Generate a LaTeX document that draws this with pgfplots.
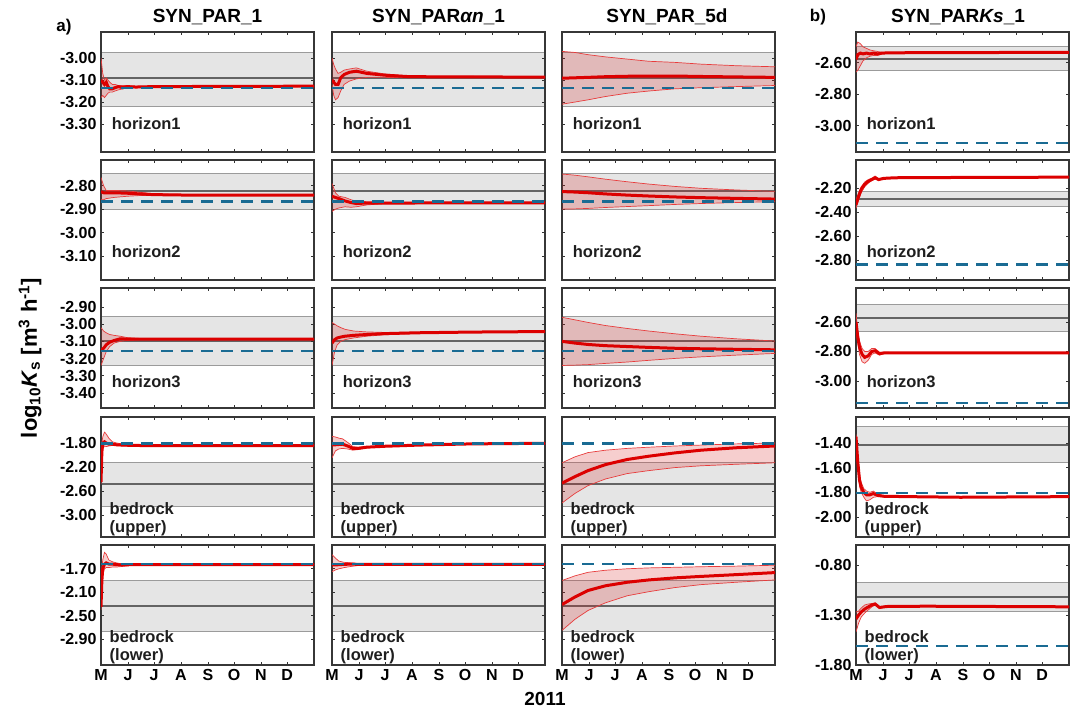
\documentclass[border=0pt]{standalone}
\usepackage{fontspec}
\setmainfont{Liberation Sans}
\usepackage{pgfplots}
\usepackage{pgfplotstable}
\pgfplotsset{compat=1.18}
\usepgfplotslibrary{fillbetween}

\definecolor{framegray}{RGB}{55,55,55}
\definecolor{bandfill}{RGB}{229,229,229}
\definecolor{bandedge}{RGB}{155,155,155}
\definecolor{midgray}{RGB}{100,100,100}
\definecolor{trueblue}{RGB}{26,107,147}
\definecolor{mainred}{RGB}{220,0,0}
\definecolor{envred}{RGB}{232,60,60}
\definecolor{pinkfill}{RGB}{215,30,30}
\definecolor{labcol}{RGB}{30,30,30}

\newcommand\labfont{\bfseries\fontsize{16.5bp}{18bp}\selectfont}
\newcommand\tickfont{\bfseries\fontsize{16bp}{18bp}\selectfont}

\pgfplotsset{
 pan/.style={
  set layers,
  width=213bp, height=120bp, scale only axis, anchor=north west,
  xmin=0, xmax=245, xtick={0,31,61,92,123,153,184,214}, xticklabels={},
  tick align=inside, major tick length=3bp, xtick pos=both, ytick pos=both,
  axis line style={draw=framegray, line width=1.8bp},
  tick style={draw=black!80, line width=0.7bp},
  tick label style={font=\tickfont},
  yticklabel style={xshift=-1bp},
 },
 bot/.style={xticklabels={M,J,J,A,S,O,N,D}, xticklabel style={yshift=-1bp}},
 noy/.style={yticklabels={}},
}

\newcommand{\band}[3]{%
 \addplot[on layer=axis background, draw=bandedge, fill=bandfill, line width=0.9bp] coordinates {(0,#1) (245,#1) (245,#2) (0,#2) (0,#1)};
 \addplot[on layer=axis background, draw=midgray, line width=2bp] coordinates {(0,#3) (245,#3)};}
\newcommand{\ens}[2]{%
 \addplot[name path=U#2, draw=envred, line width=0.7bp] table[x=x,y=u]{#1};
 \addplot[name path=L#2, draw=envred, line width=0.7bp] table[x=x,y=l]{#1};
 \addplot[fill=pinkfill, fill opacity=0.22, draw=none] fill between[of=U#2 and L#2];
 \addplot[draw=mainred, line width=3bp] table[x=x,y=m]{#1};}
\newcommand{\truth}[1]{\addplot[draw=trueblue, line width=2.6bp, dash pattern=on 12bp off 8bp] coordinates {(0,#1) (245,#1)};}
\newcommand{\hlab}[2]{\node[anchor=base west, font=\labfont, text=labcol, inner sep=0pt] at (rel axis cs:0.05,#1) {#2};}
\newcommand{\blab}[1]{\node[anchor=base west, font=\labfont, text=labcol, inner sep=0pt] at (rel axis cs:0.04,0.185) {bedrock};
 \node[anchor=base west, font=\labfont, text=labcol, inner sep=0pt] at (rel axis cs:0.04,0.035) {(#1)};}

% ---------------- data: x = day since 1 May 2011, m = mean, u/l = envelope
\pgfplotstableread{
x m u l
0 -3.10 -3.00 -3.18
2 -3.11 -3.07 -3.17
4 -3.12 -3.10 -3.18
6 -3.11 -3.09 -3.17
8 -3.13 -3.10 -3.16
10 -3.14 -3.11 -3.155
13 -3.14 -3.12 -3.155
16 -3.135 -3.12 -3.15
20 -3.13 -3.125 -3.145
25 -3.135 -3.125 -3.14
30 -3.13 -3.125 -3.137
40 -3.132 -3.128 -3.135
60 -3.13 -3.128 -3.132
245 -3.128 -3.126 -3.130
}\dAa
\pgfplotstableread{
x m u l
0 -3.10 -3.00 -3.12
2 -3.11 -3.03 -3.17
4 -3.12 -3.05 -3.19
7 -3.12 -3.07 -3.18
10 -3.09 -3.065 -3.15
14 -3.075 -3.055 -3.12
20 -3.065 -3.05 -3.105
28 -3.06 -3.045 -3.095
40 -3.07 -3.06 -3.088
60 -3.078 -3.072 -3.088
90 -3.085 -3.082 -3.09
245 -3.087 -3.085 -3.089
}\dAb
\pgfplotstableread{
x m u l
0 -3.092 -2.97 -3.21
15 -3.09 -2.975 -3.20
30 -3.088 -2.985 -3.19
50 -3.085 -2.995 -3.175
75 -3.083 -3.005 -3.16
100 -3.082 -3.015 -3.15
130 -3.082 -3.02 -3.14
160 -3.084 -3.028 -3.135
200 -3.086 -3.035 -3.13
245 -3.088 -3.04 -3.125
}\dAc
\pgfplotstableread{
x m u l
0 -2.58 -2.50 -2.66
2 -2.55 -2.47 -2.65
5 -2.54 -2.48 -2.62
8 -2.545 -2.50 -2.59
12 -2.54 -2.51 -2.57
16 -2.545 -2.52 -2.56
20 -2.54 -2.525 -2.555
25 -2.545 -2.53 -2.555
30 -2.54 -2.535 -2.545
40 -2.538 -2.535 -2.541
245 -2.535 -2.533 -2.537
}\dAd
\pgfplotstableread{
x m u l
0 -2.825 -2.765 -2.86
3 -2.83 -2.80 -2.86
6 -2.83 -2.82 -2.855
15 -2.83 -2.82 -2.85
30 -2.832 -2.822 -2.845
45 -2.835 -2.828 -2.842
60 -2.838 -2.834 -2.842
100 -2.84 -2.838 -2.842
245 -2.84 -2.838 -2.842
}\dBa
\pgfplotstableread{
x m u l
0 -2.845 -2.79 -2.91
4 -2.85 -2.83 -2.90
8 -2.855 -2.845 -2.895
15 -2.865 -2.85 -2.89
22 -2.872 -2.86 -2.892
28 -2.876 -2.866 -2.89
40 -2.874 -2.868 -2.882
60 -2.874 -2.871 -2.877
245 -2.873 -2.871 -2.875
}\dBb
\pgfplotstableread{
x m u l
0 -2.825 -2.75 -2.90
15 -2.827 -2.755 -2.899
30 -2.83 -2.762 -2.897
50 -2.835 -2.772 -2.893
75 -2.84 -2.783 -2.889
100 -2.844 -2.793 -2.885
130 -2.848 -2.803 -2.88
160 -2.851 -2.811 -2.876
200 -2.854 -2.818 -2.872
245 -2.857 -2.824 -2.868
}\dBc
\pgfplotstableread{
x m u l
0 -2.34 -2.30 -2.37
3 -2.27 -2.24 -2.30
6 -2.21 -2.19 -2.24
10 -2.17 -2.15 -2.19
14 -2.145 -2.13 -2.16
18 -2.13 -2.12 -2.14
22 -2.115 -2.10 -2.125
26 -2.13 -2.125 -2.135
32 -2.12 -2.118 -2.125
45 -2.115 -2.113 -2.118
100 -2.113 -2.111 -2.115
245 -2.11 -2.108 -2.112
}\dBd
\pgfplotstableread{
x m u l
0 -3.15 -3.02 -3.24
3 -3.14 -3.04 -3.20
6 -3.12 -3.05 -3.16
10 -3.105 -3.06 -3.13
15 -3.095 -3.065 -3.11
22 -3.085 -3.07 -3.10
30 -3.087 -3.078 -3.095
45 -3.087 -3.083 -3.091
245 -3.087 -3.085 -3.089
}\dCa
\pgfplotstableread{
x m u l
0 -3.11 -2.99 -3.24
3 -3.09 -3.00 -3.16
6 -3.08 -3.01 -3.12
10 -3.075 -3.02 -3.10
15 -3.07 -3.03 -3.09
25 -3.065 -3.04 -3.08
40 -3.06 -3.045 -3.07
60 -3.055 -3.048 -3.062
100 -3.05 -3.047 -3.053
160 -3.046 -3.044 -3.048
245 -3.043 -3.041 -3.045
}\dCb
\pgfplotstableread{
x m u l
0 -3.10 -2.96 -3.24
15 -3.11 -2.975 -3.238
30 -3.118 -2.99 -3.235
50 -3.125 -3.008 -3.228
75 -3.13 -3.025 -3.22
100 -3.135 -3.04 -3.21
130 -3.14 -3.056 -3.199
160 -3.143 -3.07 -3.19
200 -3.146 -3.085 -3.18
245 -3.149 -3.098 -3.17
}\dCc
\pgfplotstableread{
x m u l
0 -2.60 -2.54 -2.66
2 -2.70 -2.66 -2.74
4 -2.77 -2.73 -2.82
7 -2.82 -2.78 -2.87
10 -2.84 -2.80 -2.88
14 -2.83 -2.80 -2.86
18 -2.80 -2.78 -2.82
22 -2.795 -2.78 -2.81
27 -2.815 -2.805 -2.825
32 -2.81 -2.805 -2.815
50 -2.81 -2.808 -2.812
245 -2.81 -2.808 -2.812
}\dCd
\pgfplotstableread{
x m u l
0 -2.45 -2.20 -2.48
1 -1.95 -1.80 -2.20
2 -1.80 -1.70 -1.90
4 -1.78 -1.62 -1.85
6 -1.80 -1.65 -1.86
9 -1.82 -1.72 -1.85
13 -1.82 -1.78 -1.84
18 -1.83 -1.80 -1.845
25 -1.835 -1.82 -1.85
35 -1.84 -1.835 -1.85
60 -1.845 -1.84 -1.85
245 -1.845 -1.843 -1.847
}\dDa
\pgfplotstableread{
x m u l
0 -1.83 -1.69 -2.05
4 -1.83 -1.70 -1.93
8 -1.825 -1.72 -1.90
12 -1.82 -1.73 -1.89
18 -1.85 -1.79 -1.90
24 -1.89 -1.86 -1.92
30 -1.89 -1.87 -1.91
40 -1.87 -1.86 -1.88
60 -1.855 -1.85 -1.86
100 -1.835 -1.832 -1.838
160 -1.815 -1.813 -1.817
245 -1.805 -1.803 -1.807
}\dDb
\pgfplotstableread{
x m u l
0 -2.47 -2.13 -2.80
15 -2.36 -2.03 -2.64
30 -2.26 -1.96 -2.51
50 -2.16 -1.92 -2.40
75 -2.075 -1.89 -2.31
100 -2.02 -1.87 -2.26
130 -1.965 -1.85 -2.21
160 -1.92 -1.835 -2.18
200 -1.88 -1.815 -2.155
245 -1.85 -1.80 -2.13
}\dDc
\pgfplotstableread{
x m u l
0 -1.35 -1.33 -1.40
2 -1.55 -1.50 -1.60
4 -1.70 -1.65 -1.75
6 -1.76 -1.72 -1.80
9 -1.80 -1.77 -1.84
12 -1.82 -1.79 -1.87
16 -1.82 -1.80 -1.86
20 -1.81 -1.79 -1.84
25 -1.825 -1.815 -1.835
32 -1.832 -1.828 -1.836
60 -1.835 -1.833 -1.837
120 -1.84 -1.838 -1.842
245 -1.835 -1.833 -1.837
}\dDd
\pgfplotstableread{
x m u l
0 -2.35 -2.10 -2.40
1 -1.90 -1.70 -2.10
2 -1.70 -1.55 -1.80
4 -1.62 -1.42 -1.70
6 -1.60 -1.45 -1.68
9 -1.62 -1.55 -1.68
13 -1.62 -1.58 -1.67
18 -1.63 -1.60 -1.67
25 -1.635 -1.62 -1.66
35 -1.63 -1.625 -1.64
60 -1.63 -1.628 -1.633
245 -1.63 -1.628 -1.632
}\dEa
\pgfplotstableread{
x m u l
0 -1.635 -1.46 -1.75
4 -1.635 -1.52 -1.72
8 -1.63 -1.57 -1.70
14 -1.625 -1.59 -1.68
22 -1.62 -1.60 -1.66
30 -1.625 -1.61 -1.645
45 -1.625 -1.62 -1.632
245 -1.625 -1.623 -1.627
}\dEb
\pgfplotstableread{
x m u l
0 -2.31 -1.90 -2.75
15 -2.18 -1.82 -2.56
30 -2.07 -1.76 -2.41
50 -1.99 -1.725 -2.28
75 -1.93 -1.70 -2.16
100 -1.89 -1.685 -2.09
130 -1.855 -1.675 -2.02
160 -1.83 -1.665 -1.97
200 -1.80 -1.655 -1.93
245 -1.765 -1.64 -1.89
}\dEc
\pgfplotstableread{
x m u l
0 -1.34 -1.27 -1.47
3 -1.30 -1.26 -1.38
6 -1.27 -1.23 -1.32
10 -1.24 -1.20 -1.28
14 -1.22 -1.19 -1.25
18 -1.20 -1.185 -1.22
22 -1.19 -1.18 -1.20
27 -1.225 -1.22 -1.23
35 -1.215 -1.212 -1.218
80 -1.212 -1.21 -1.214
245 -1.218 -1.216 -1.22
}\dEd

\begin{document}
\begin{tikzpicture}
\path (0,0) rectangle (1077bp,-710bp);

% ---- titles and labels
\node[font=\bfseries\fontsize{19bp}{21bp}\selectfont] at (207.5bp,-17bp) {SYN\_PAR\_1};
\node[font=\bfseries\fontsize{19bp}{21bp}\selectfont] at (438.5bp,-17bp) {SYN\_PAR\textit{αn}\_1};
\node[font=\bfseries\fontsize{19bp}{21bp}\selectfont] at (667bp,-17bp) {SYN\_PAR\_5d};
\node[font=\bfseries\fontsize{19bp}{21bp}\selectfont] at (958bp,-17bp) {SYN\_PAR\textit{Ks}\_1};
\node[font=\bfseries\fontsize{17bp}{19bp}\selectfont] at (64bp,-27bp) {a)};
\node[font=\bfseries\fontsize{17bp}{19bp}\selectfont] at (818bp,-17bp) {b)};
\node[font=\bfseries\fontsize{19bp}{21bp}\selectfont] at (545bp,-699bp) {2011};
\node[rotate=90, font=\bfseries\fontsize{22bp}{24bp}\selectfont] at (30bp,-358bp)
 {log\textsubscript{10}\textit{K}\textsubscript{s} [m\textsuperscript{3} h\textsuperscript{-1}]};

% ================= ROW 1 =================
\begin{axis}[pan, at={(101bp,-32bp)}, ymin=-3.427, ymax=-2.882,
 ytick={-3.3,-3.2,-3.1,-3.0}, yticklabels={-3.30,-3.20,-3.10,-3.00}]
\band{-3.218}{-2.973}{-3.09}\ens{\dAa}{Aa}\truth{-3.136}\hlab{0.19}{horizon1}
\end{axis}
\begin{axis}[pan, noy, at={(332bp,-32bp)}, ymin=-3.427, ymax=-2.882, ytick={-3.3,-3.2,-3.1,-3.0}]
\band{-3.218}{-2.973}{-3.09}\ens{\dAb}{Ab}\truth{-3.136}\hlab{0.19}{horizon1}
\end{axis}
\begin{axis}[pan, noy, at={(562bp,-32bp)}, ymin=-3.427, ymax=-2.882, ytick={-3.3,-3.2,-3.1,-3.0}]
\band{-3.218}{-2.973}{-3.09}\ens{\dAc}{Ac}\truth{-3.136}\hlab{0.19}{horizon1}
\end{axis}
\begin{axis}[pan, at={(856bp,-32bp)}, ymin=-3.168, ymax=-2.406,
 ytick={-3.0,-2.8,-2.6}, yticklabels={-3.00,-2.80,-2.60}]
\band{-2.65}{-2.50}{-2.58}\ens{\dAd}{Ad}\truth{-3.11}\hlab{0.19}{horizon1}
\end{axis}

% ================= ROW 2 =================
\begin{axis}[pan, at={(101bp,-160bp)}, ymin=-3.203, ymax=-2.69,
 ytick={-3.1,-3.0,-2.9,-2.8}, yticklabels={-3.10,-3.00,-2.90,-2.80}]
\band{-2.903}{-2.746}{-2.824}\ens{\dBa}{Ba}\truth{-2.867}\hlab{0.19}{horizon2}
\end{axis}
\begin{axis}[pan, noy, at={(332bp,-160bp)}, ymin=-3.203, ymax=-2.69, ytick={-3.1,-3.0,-2.9,-2.8}]
\band{-2.903}{-2.746}{-2.824}\ens{\dBb}{Bb}\truth{-2.867}\hlab{0.19}{horizon2}
\end{axis}
\begin{axis}[pan, noy, at={(562bp,-160bp)}, ymin=-3.203, ymax=-2.69, ytick={-3.1,-3.0,-2.9,-2.8}]
\band{-2.903}{-2.746}{-2.824}\ens{\dBc}{Bc}\truth{-2.867}\hlab{0.19}{horizon2}
\end{axis}
\begin{axis}[pan, at={(856bp,-160bp)}, ymin=-2.967, ymax=-1.967,
 ytick={-2.8,-2.6,-2.4,-2.2}, yticklabels={-2.80,-2.60,-2.40,-2.20}]
\band{-2.35}{-2.233}{-2.29}\ens{\dBd}{Bd}\truth{-2.84}\hlab{0.19}{horizon2}
\end{axis}

% ================= ROW 3 =================
\begin{axis}[pan, at={(101bp,-288bp)}, ymin=-3.487, ymax=-2.79,
 ytick={-3.4,-3.3,-3.2,-3.1,-3.0,-2.9}, yticklabels={-3.40,-3.30,-3.20,-3.10,-3.00,-2.90}]
\band{-3.24}{-2.958}{-3.10}\ens{\dCa}{Ca}\truth{-3.155}\hlab{0.175}{horizon3}
\end{axis}
\begin{axis}[pan, noy, at={(332bp,-288bp)}, ymin=-3.487, ymax=-2.79, ytick={-3.4,-3.3,-3.2,-3.1,-3.0,-2.9}]
\band{-3.24}{-2.958}{-3.10}\ens{\dCb}{Cb}\truth{-3.155}\hlab{0.175}{horizon3}
\end{axis}
\begin{axis}[pan, noy, at={(562bp,-288bp)}, ymin=-3.487, ymax=-2.79, ytick={-3.4,-3.3,-3.2,-3.1,-3.0,-2.9}]
\band{-3.24}{-2.958}{-3.10}\ens{\dCc}{Cc}\truth{-3.155}\hlab{0.175}{horizon3}
\end{axis}
\begin{axis}[pan, at={(856bp,-288bp)}, ymin=-3.183, ymax=-2.37,
 ytick={-3.0,-2.8,-2.6}, yticklabels={-3.00,-2.80,-2.60}]
\band{-2.667}{-2.481}{-2.573}\ens{\dCd}{Cd}\truth{-3.15}\hlab{0.175}{horizon3}
\end{axis}

% ================= ROW 4 =================
\begin{axis}[pan, at={(101bp,-417bp)}, ymin=-3.367, ymax=-1.367,
 ytick={-3.0,-2.6,-2.2,-1.8}, yticklabels={-3.00,-2.60,-2.20,-1.80}]
\band{-2.85}{-2.117}{-2.483}\ens{\dDa}{Da}\truth{-1.805}\blab{upper}
\end{axis}
\begin{axis}[pan, noy, at={(332bp,-417bp)}, ymin=-3.367, ymax=-1.367, ytick={-3.0,-2.6,-2.2,-1.8}]
\band{-2.85}{-2.117}{-2.483}\ens{\dDb}{Db}\truth{-1.805}\blab{upper}
\end{axis}
\begin{axis}[pan, noy, at={(562bp,-417bp)}, ymin=-3.367, ymax=-1.367, ytick={-3.0,-2.6,-2.2,-1.8}]
\band{-2.85}{-2.117}{-2.483}\ens{\dDc}{Dc}\truth{-1.805}\blab{upper}
\end{axis}
\begin{axis}[pan, at={(856bp,-417bp)}, ymin=-2.162, ymax=-1.19,
 ytick={-2.0,-1.8,-1.6,-1.4}, yticklabels={-2.00,-1.80,-1.60,-1.40}]
\band{-1.56}{-1.27}{-1.415}\ens{\dDd}{Dd}\truth{-1.805}\blab{upper}
\end{axis}

% ================= ROW 5 =================
\begin{axis}[pan, bot, at={(101bp,-545bp)}, ymin=-3.34, ymax=-1.295,
 ytick={-2.9,-2.5,-2.1,-1.7}, yticklabels={-2.90,-2.50,-2.10,-1.70}]
\band{-2.76}{-1.90}{-2.33}\ens{\dEa}{Ea}\truth{-1.62}\blab{lower}
\end{axis}
\begin{axis}[pan, bot, noy, at={(332bp,-545bp)}, ymin=-3.34, ymax=-1.295, ytick={-2.9,-2.5,-2.1,-1.7}]
\band{-2.76}{-1.90}{-2.33}\ens{\dEb}{Eb}\truth{-1.62}\blab{lower}
\end{axis}
\begin{axis}[pan, bot, noy, at={(562bp,-545bp)}, ymin=-3.34, ymax=-1.295, ytick={-2.9,-2.5,-2.1,-1.7}]
\band{-2.76}{-1.90}{-2.33}\ens{\dEc}{Ec}\truth{-1.62}\blab{lower}
\end{axis}
\begin{axis}[pan, bot, at={(856bp,-545bp)}, ymin=-1.80, ymax=-0.60,
 ytick={-1.8,-1.3,-0.8}, yticklabels={-1.80,-1.30,-0.80}]
\band{-1.265}{-0.977}{-1.116}\ens{\dEd}{Ed}\truth{-1.61}\blab{lower}
\end{axis}
\end{tikzpicture}
\end{document}
